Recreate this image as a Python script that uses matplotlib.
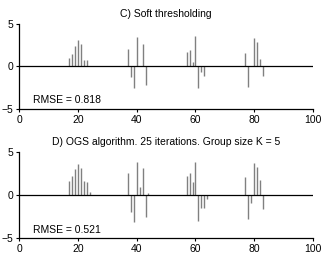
import matplotlib
matplotlib.use("Agg")
import matplotlib.pyplot as plt

plt.rcParams['font.family'] = ['Liberation Sans', 'DejaVu Sans']

# Panel C: soft thresholding
c_pos = [17, 18, 19, 20, 21, 22, 23, 37, 38, 39, 40, 42, 43, 57, 58, 59, 60, 61, 62, 63, 77, 78, 80, 81, 82, 83]
c_val = [1.0, 1.5, 2.43, 3.1, 2.67, 0.78, 0.78, 2.08, -1.22, -2.59, 3.45, 2.67, -2.16,
         1.69, 1.96, 0.47, 3.53, -2.59, -0.7, -1.1, 1.57, -2.43, 3.33, 2.82, 0.86, -1.1]

# Panel D: OGS algorithm
d_pos = [17, 18, 19, 20, 21, 22, 23, 24, 37, 38, 39, 40, 41, 42, 43, 44,
         57, 58, 59, 60, 61, 62, 63, 64, 77, 78, 79, 80, 81, 82, 83]
d_val = [1.7, 2.25, 3.06, 3.6, 3.18, 1.7, 1.55, 0.39, 2.56, -1.94, -3.06, 3.9, 0.97, 3.18, -2.48, 0.27,
         2.2, 2.6, 1.55, 3.9, -2.98, -1.47, -1.47, -0.43, 2.13, -2.75, -0.93, 3.76, 3.33, 1.78, -1.59]

titles = ["C) Soft thresholding", "D) OGS algorithm. 25 iterations. Group size K = 5"]
rmse_labels = ["RMSE = 0.818", "RMSE = 0.521"]
x_ticks = [0, 20, 40, 60, 80, 100]
y_ticks = [-5, 0, 5]

fig = plt.figure(figsize=(3.27, 2.71), dpi=100)
ax_c = fig.add_axes([0.059, 0.598, 0.898, 0.314])
ax_d = fig.add_axes([0.059, 0.121, 0.898, 0.317])

for ax, pos, val, title, rm in [(ax_c, c_pos, c_val, titles[0], rmse_labels[0]),
                                (ax_d, d_pos, d_val, titles[1], rmse_labels[1])]:
    ax.vlines(pos, 0, val, color='#808080', linewidth=1.0)
    ax.hlines(0, 0, 100, color='black', linewidth=0.9)
    ax.set_xlim(0, 100)
    ax.set_ylim(-5, 5)
    ax.set_xticks(x_ticks)
    ax.set_yticks(y_ticks)
    ax.set_yticklabels(['\u22125', '0', '5'])
    for s in ['top', 'right']:
        ax.spines[s].set_visible(False)
    for s in ['left', 'bottom']:
        ax.spines[s].set_linewidth(0.9)
    ax.tick_params(labelsize=7.5, length=2.5, width=0.8, pad=2)
    ax.set_title(title, fontsize=7.5, pad=5)
    ax.text(4.7, -4.0, rm, fontsize=7.5, ha='left', va='center')

fig.savefig("out.png", dpi=100)
